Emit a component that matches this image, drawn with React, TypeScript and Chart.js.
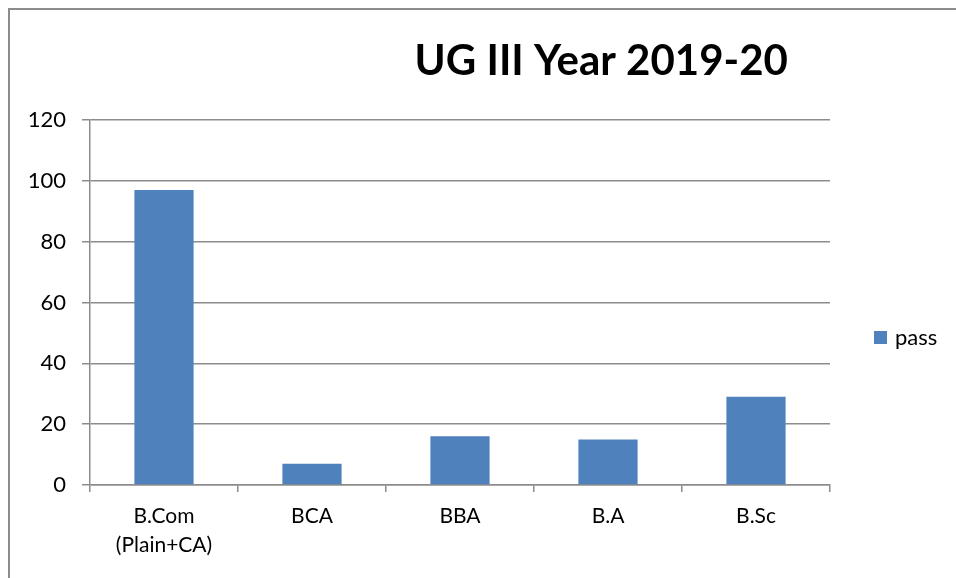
import React, { useEffect, useRef } from "react";
import { Chart, registerables } from "chart.js";

Chart.register(...registerables);

const categories: string[][] = [["B.Com", "(Plain+CA)"], ["BCA"], ["BBA"], ["B.A"], ["B.Sc"]];
const passValues: number[] = [97, 7, 16, 15, 29];
const seriesLabel = "pass";
const titleText = "UG III Year 2019-20";
const yTicks = { min: 0, max: 120, step: 20 };

const FONT = "Lato, 'Open Sans', 'Liberation Sans', sans-serif";
const GRID = "#8c8c8c";
const BAR = "#4F81BD";

const titlePlugin = {
  id: "customTitle",
  afterDraw(chart: any) {
    const ctx = chart.ctx;
    ctx.save();
    ctx.font = `bold 42px ${FONT}`;
    ctx.fillStyle = "#000";
    ctx.textAlign = "center";
    ctx.textBaseline = "middle";
    ctx.fillText(titleText, chart.width * 0.625, 51);
    ctx.restore();
  },
};

const legendPlugin = {
  id: "customLegend",
  afterDraw(chart: any) {
    const ctx = chart.ctx;
    const ds = chart.data.datasets[0];
    const area = chart.chartArea;
    const midY = (area.top + area.bottom) / 2;
    const x = area.right + 44;
    ctx.save();
    ctx.fillStyle = ds.backgroundColor;
    ctx.fillRect(x, midY - 6.5 + 35, 13, 13);
    ctx.font = `22px ${FONT}`;
    ctx.fillStyle = "#000";
    ctx.textAlign = "left";
    ctx.textBaseline = "middle";
    ctx.fillText(ds.label, x + 21, midY + 35);
    ctx.restore();
  },
};

export default function App() {
  const ref = useRef<HTMLCanvasElement>(null);
  useEffect(() => {
    if (!ref.current) return;
    const chart = new Chart(ref.current, {
      type: "bar",
      data: {
        labels: categories,
        datasets: [
          {
            label: seriesLabel,
            data: passValues,
            backgroundColor: BAR,
            borderWidth: 0,
            barPercentage: 0.4,
            categoryPercentage: 1,
          },
        ],
      },
      plugins: [titlePlugin, legendPlugin],
      options: {
        animation: false,
        responsive: true,
        maintainAspectRatio: false,
        layout: { padding: { top: 110, right: 126, left: 0, bottom: 0 } },
        plugins: {
          legend: { display: false },
          title: { display: false },
          tooltip: { enabled: false },
        },
        scales: {
          x: {
            offset: true,
            grid: {
              offset: true,
              drawOnChartArea: false,
              drawTicks: true,
              tickLength: 7,
              color: GRID,
              lineWidth: 1.5,
            },
            border: { display: true, color: GRID, width: 1.5 },
            ticks: {
              color: "#000",
              font: { family: FONT, size: 21, lineHeight: 1.38 },
              padding: 10,
              maxRotation: 0,
              autoSkip: false,
            },
            afterFit(scale: any) {
              scale.height = 93;
            },
          },
          y: {
            min: yTicks.min,
            max: yTicks.max,
            ticks: {
              stepSize: yTicks.step,
              color: "#000",
              font: { family: FONT, size: 22 },
              padding: 16,
            },
            grid: {
              color: GRID,
              lineWidth: 1.5,
              tickLength: 8,
              drawTicks: true,
            },
            border: { display: true, color: GRID, width: 1.5 },
            afterFit(scale: any) {
              scale.width = 80;
            },
          },
        },
      },
    });
    return () => chart.destroy();
  }, []);

  return (
    <div
      style={{
        position: "fixed",
        left: 8,
        top: 8,
        width: 948,
        height: 570,
        borderLeft: "2px solid #8c8c8c",
        borderTop: "2px solid #8c8c8c",
        boxSizing: "border-box",
        background: "#fff",
      }}
    >
      <div style={{ position: "relative", width: 946, height: 568 }}>
        <canvas ref={ref} />
      </div>
    </div>
  );
}
